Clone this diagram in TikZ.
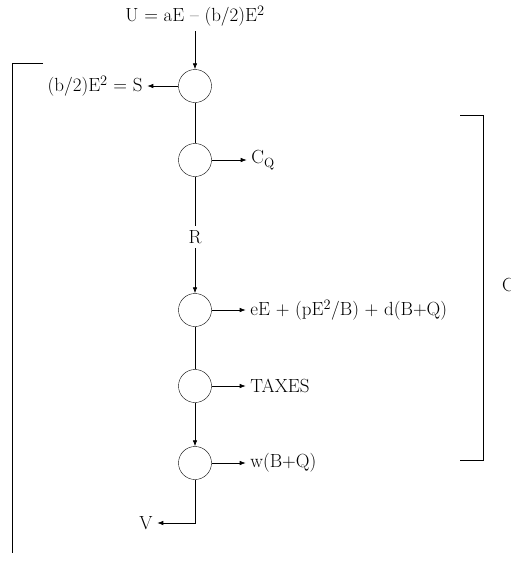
\documentclass[tikz,border=0pt]{standalone}
\usepackage{tikz}
\usetikzlibrary{positioning,arrows.meta}

\begin{document}
\begin{tikzpicture}[x=1pt, y=-1pt,
  junc/.style={draw, circle, minimum size=33pt, inner sep=0pt},
  lbl/.style={font=\fontsize{19}{21}\selectfont, inner sep=4.5pt},
  arr/.style={-{Latex[length=6pt,width=4.5pt]}, line width=0.7pt},
  ln/.style={line width=0.7pt},
]
\useasboundingbox (0,0) rectangle (511,563);
% junctions down the middle
\node[junc] (j1) at (195,86) {};
\node[junc] (j2) at (195,160) {};
\node[junc] (j3) at (195,310) {};
\node[junc] (j4) at (195,386) {};
\node[junc] (j5) at (195,463) {};
% labels
\node[lbl, above=38pt of j1] (util) {U = aE -- (b/2)E$^2$};
\node[lbl, left=31pt of j1] (surp) {(b/2)E$^2$ = S};
\node[lbl, right=35pt of j2] (cq) {C\textsubscript{Q}};
\node[lbl] (rev) at (195,237) {R};
\node[lbl, right=34pt of j3] (cost) {eE + (pE$^2$/B) + d(B+Q)};
\node[lbl, right=34pt of j4] (tax) {TAXES};
\node[lbl, right=34pt of j5] (wage) {w(B+Q)};
\node[lbl] (val) at (146,523) {V};
\coordinate (turn) at (195,523);
\node[lbl, anchor=west, inner sep=2pt] (cut) at (500,285) {C};
% flows
\draw[arr] (util) -- (j1);
\draw[arr] (j1) -- (surp);
\draw[ln] (j1) -- (j2);
\draw[arr] (j2) -- (cq);
\draw[ln] (j2) -- (rev);
\draw[arr] (rev) -- (j3);
\draw[arr] (j3) -- (cost);
\draw[ln] (j3) -- (j4);
\draw[arr] (j4) -- (tax);
\draw[arr] (j4) -- (j5);
\draw[arr] (j5) -- (wage);
\draw[arr] (j5) -- (turn) -- (val);
% brackets
\draw[ln] (43,63) -- (12,63) -- (12,553);
\draw[ln] (460,115) -- (483,115) -- (483,460) -- (460,460);
\end{tikzpicture}
\end{document}
